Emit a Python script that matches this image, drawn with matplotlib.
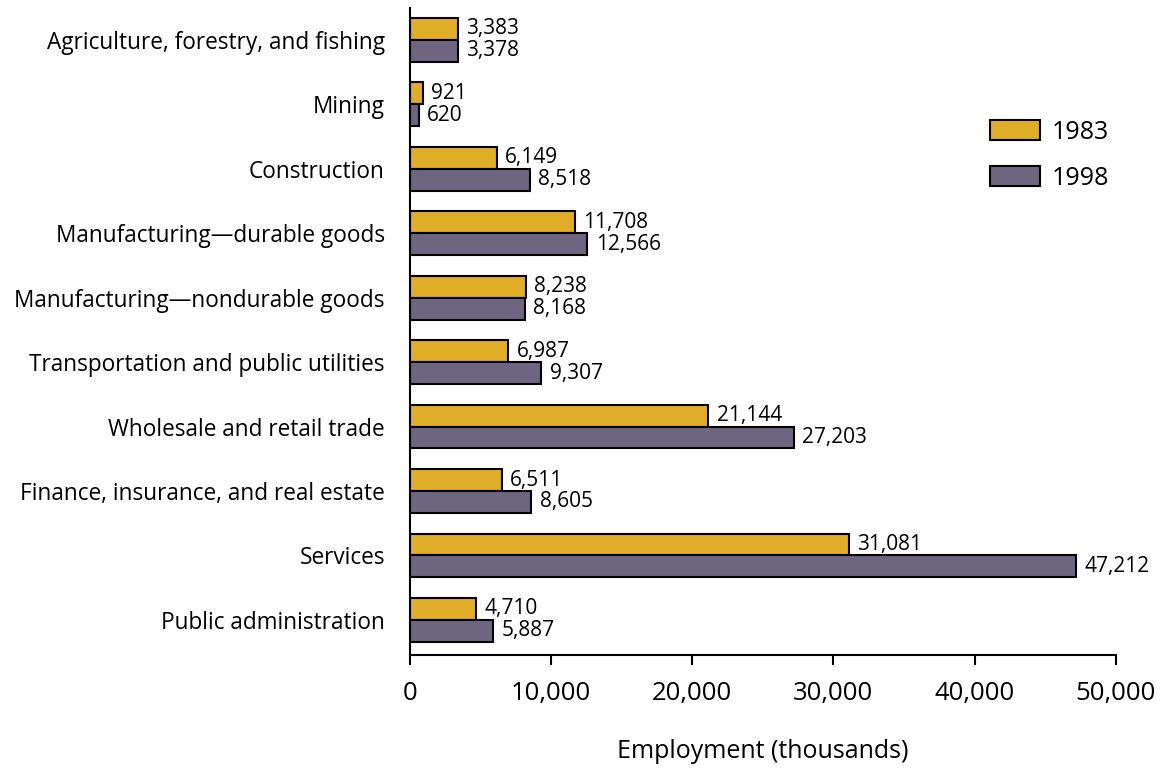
import numpy as np
import matplotlib.pyplot as plt
from matplotlib.patches import Patch

plt.rcParams['font.family'] = ['Open Sans', 'DejaVu Sans']

categories = ["Agriculture, forestry, and fishing", "Mining", "Construction",
              "Manufacturing\u2014durable goods", "Manufacturing\u2014nondurable goods",
              "Transportation and public utilities", "Wholesale and retail trade",
              "Finance, insurance, and real estate", "Services", "Public administration"]
emp_1983 = [3383, 921, 6149, 11708, 8238, 6987, 21144, 6511, 31081, 4710]
emp_1998 = [3378, 620, 8518, 12566, 8168, 9307, 27203, 8605, 47212, 5887]
years = ["1983", "1998"]
colors = ["#E0AD28", "#6E6580"]

fig = plt.figure(figsize=(11.61, 7.72), dpi=100)
ax = fig.add_axes([0.353, 0.152, 0.608, 0.838])

y = np.arange(len(categories))
h = 0.34
for vals, off, c in [(emp_1983, -h / 2, colors[0]), (emp_1998, h / 2, colors[1])]:
    bars = ax.barh(y + off, vals, height=h, color=c, edgecolor="black", linewidth=1.5)
    for b, v in zip(bars, vals):
        ax.annotate(f"{v:,}", (v, b.get_y() + b.get_height() / 2), xytext=(6, 0),
                    textcoords="offset points", va="center", ha="left", fontsize=15)

ax.set_ylim(9.54, -0.5)
ax.set_xlim(0, 50000)
ax.set_yticks(y)
ax.set_yticklabels(categories, fontsize=16.3)
ax.tick_params(axis="y", length=0, pad=18)
ax.set_xticks(np.arange(0, 50001, 10000))
ax.set_xticklabels([f"{t:,}" for t in range(0, 50001, 10000)], fontsize=18.5)
ax.tick_params(axis="x", direction="out", length=7, width=1.5, pad=12)
ax.spines[["top", "right"]].set_visible(False)
ax.spines["left"].set_linewidth(1.5)
ax.spines["bottom"].set_linewidth(1.5)
ax.set_xlabel("Employment (thousands)", fontsize=18, labelpad=24)

handles = [Patch(facecolor=c, edgecolor="black", linewidth=1.5) for c in colors]
fig.legend(handles, years, loc="upper left", bbox_to_anchor=(0.842, 0.861), frameon=False,
           borderpad=0, fontsize=18, handlelength=2.0, handleheight=0.85,
           labelspacing=0.85, handletextpad=0.45)

fig.savefig("out.png", dpi=100)
